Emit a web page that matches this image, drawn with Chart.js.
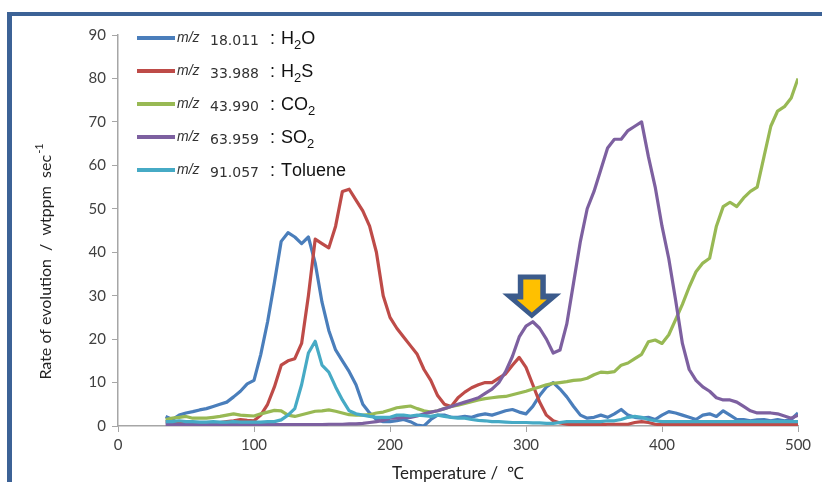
<!DOCTYPE html>
<html>
<head>
<meta charset="utf-8">
<script src="https://cdn.jsdelivr.net/npm/chart.js@4.4.1/dist/chart.umd.min.js"></script>
<style>
  html, body { margin: 0; padding: 0; background: #fff; }
  #wrap { width: 822px; height: 482px; }
</style>
</head>
<body>
<div id="wrap"><canvas id="evolutionChart" width="822" height="482"></canvas></div>
<script>
// Temperature (degC) sample points
const temperatures = [
  35, 40, 45, 50, 55, 60, 65, 70, 75, 80,
  85, 90, 95, 100, 105, 110, 115, 120, 125, 130,
  135, 140, 145, 150, 155, 160, 165, 170, 175, 180,
  185, 190, 195, 200, 205, 210, 215, 220, 225, 230,
  235, 240, 245, 250, 255, 260, 265, 270, 275, 280,
  285, 290, 295, 300, 305, 310, 315, 320, 325, 330,
  335, 340, 345, 350, 355, 360, 365, 370, 375, 380,
  385, 390, 395, 400, 405, 410, 415, 420, 425, 430,
  435, 440, 445, 450, 455, 460, 465, 470, 475, 480,
  485, 490, 495, 500
];

// Rate of evolution (wtppm/sec) per species
const h2oValues = [
  2.2, 1.5, 2.5, 3, 3.3, 3.7, 4, 4.5, 5, 5.5,
  6.7, 8, 9.7, 10.5, 16.5, 24, 33, 42.5, 44.5, 43.5,
  42, 43.5, 37.5, 28.5, 22, 17.5, 15, 12.5, 9.5, 5,
  3, 1.5, 1, 1, 1.2, 1.5, 1, 0.2, 0, 1.5,
  2.5, 2.5, 2, 2, 2.2, 2, 2.5, 2.8, 2.5, 3,
  3.5, 3.8, 3.2, 2.8, 4.5, 7, 9, 10, 8.5, 6.7,
  4.5, 2.5, 1.8, 2, 2.5, 2, 2.8, 3.8, 2.5, 2,
  1.8, 2, 1.5, 2.5, 3.3, 3, 2.5, 2, 1.5, 2.5,
  2.8, 2.2, 3.5, 2.5, 1.5, 1.5, 1.2, 1.4, 1.5, 1.2,
  1.5, 1.2, 1.5, 3
];
const h2sValues = [
  1, 1, 0.8, 0.8, 0.7, 0.8, 0.8, 0.7, 0.8, 1,
  1.2, 1.5, 1.3, 1.2, 2.5, 5, 9, 14, 15, 15.5,
  19, 30, 43, 42, 41, 46, 54, 54.5, 52, 49.5,
  46, 40, 30, 25, 22.5, 20.5, 18.5, 16.5, 13, 10.5,
  7, 5, 4.5, 6.5, 7.8, 8.8, 9.5, 10, 10, 11,
  12, 14, 15.8, 13.5, 9.5, 5.5, 2.5, 1.2, 0.7, 0.4,
  0.3, 0.3, 0.3, 0.3, 0.3, 0.4, 0.4, 0.4, 0.4, 0.8,
  1, 0.8, 0.4, 0.3, 0.3, 0.3, 0.3, 0.3, 0.3, 0.3,
  0.3, 0.3, 0.3, 0.3, 0.3, 0.3, 0.3, 0.3, 0.3, 0.3,
  0.3, 0.3, 0.3, 0.3
];
const co2Values = [
  1.5, 1.8, 2, 2.2, 1.8, 1.8, 1.8, 2, 2.2, 2.5,
  2.8, 2.5, 2.4, 2.3, 2.8, 3.2, 3.6, 3.5, 2.5, 2.2,
  2.6, 3, 3.4, 3.5, 3.7, 3.4, 3, 2.6, 2.5, 2.5,
  2.6, 3, 3.2, 3.7, 4.2, 4.4, 4.6, 4, 3.5, 3.2,
  3.5, 4, 4.5, 4.8, 5.2, 5.6, 6, 6.3, 6.5, 6.7,
  6.8, 7.2, 7.6, 8, 8.5, 9, 9.5, 9.8, 10, 10.2,
  10.5, 10.6, 11, 11.8, 12.4, 12.3, 12.5, 14, 14.5, 15.5,
  16.5, 19.4, 19.8, 19, 21, 24.5, 28, 32, 35.5, 37.5,
  38.6, 46, 50.5, 51.5, 50.5, 52.5, 54, 55, 62, 69,
  72.5, 73.5, 75.5, 80
];
const so2Values = [
  0.3, 0.3, 0.3, 0.3, 0.3, 0.3, 0.3, 0.3, 0.3, 0.3,
  0.3, 0.3, 0.3, 0.3, 0.3, 0.3, 0.3, 0.3, 0.3, 0.3,
  0.3, 0.3, 0.3, 0.3, 0.4, 0.4, 0.4, 0.5, 0.5, 0.6,
  0.8, 1, 1.3, 1.8, 1.8, 2, 2, 2.3, 2.8, 3.2,
  3.5, 4, 4.5, 5, 5.5, 6, 6.5, 7.5, 8.5, 10,
  12.5, 16, 20.5, 23, 24, 22.5, 20, 16.8, 17.5, 23.5,
  33, 42.5, 50, 54, 59, 64, 66, 66, 68, 69,
  70, 62, 55, 46, 38.5, 29, 19, 13, 10.5, 9,
  8, 6.5, 6, 6, 5.5, 4.5, 3.5, 3, 3, 3,
  2.8, 2.3, 1.8, 2.5
];
const tolueneValues = [
  1, 1, 1.2, 1, 1, 0.9, 0.9, 1, 0.9, 0.9,
  1, 0.9, 0.9, 0.9, 0.9, 1, 1, 1.4, 2.5, 4,
  9.5, 16.8, 19.5, 14, 12.4, 9, 6, 3.5, 2.8, 2.5,
  2.2, 2, 2, 2, 2.5, 2.5, 2.3, 2.5, 2.4, 2.2,
  2.5, 2.2, 2, 1.8, 1.8, 1.5, 1.3, 1.2, 1, 1,
  0.9, 0.8, 0.8, 0.8, 0.7, 0.7, 0.6, 0.6, 0.8, 1,
  1, 1, 1, 1, 1, 1.2, 1.2, 1.5, 2, 2.2,
  2, 1.5, 1.2, 1, 1, 1, 1, 1, 1, 1,
  1, 1, 1, 1, 1, 1, 1, 1, 1, 1,
  1, 1, 1, 1
];

const massNumbers = ["18.011", "33.988", "43.990", "63.959", "91.057"];
const speciesNames = ["H_2O", "H_2S", "CO_2", "SO_2", "Toluene"];
const seriesColors = ["#4a7ebb", "#be4b48", "#98b954", "#7d60a0", "#46aac5"];
const xTicks = [0, 100, 200, 300, 400, 500];
const yTicks = [0, 10, 20, 30, 40, 50, 60, 70, 80, 90];

// marked shoulder of the SO2 curve
const arrowTarget = { x: 305, y: 25 };

const seriesValues = [h2oValues, h2sValues, co2Values, so2Values, tolueneValues];

const datasets = seriesValues.map((values, i) => ({
  label: massNumbers[i],
  data: temperatures.map((t, j) => ({ x: t, y: values[j] })),
  borderColor: seriesColors[i],
  borderWidth: 3.2,
  pointRadius: 0,
  tension: 0,
  borderJoinStyle: "round",
  fill: false,
  order: seriesValues.length - i,
}));

const FRAME_COLOR = "#3c6296";

// draws text with "_2" as subscript, returns width used
function drawFormula(ctx, text, x, y, size) {
  let cx = x;
  for (let k = 0; k < text.length; k++) {
    const ch = text[k];
    if (ch === "_" && k + 1 < text.length) {
      ctx.font = `${Math.round(size * 0.7)}px "Liberation Sans", Arial, sans-serif`;
      ctx.fillText(text[k + 1], cx, y + 5);
      cx += ctx.measureText(text[k + 1]).width;
      k++;
    } else {
      ctx.font = `${size}px "Liberation Sans", Arial, sans-serif`;
      ctx.fillText(ch, cx, y);
      cx += ctx.measureText(ch).width;
    }
  }
  return cx - x;
}

// block arrow pointing down, tip at (tx, ty)
function arrowPath(ctx, tx, ty, shaftHalf, headHalf, headTop, top, tipInset) {
  ctx.beginPath();
  ctx.moveTo(tx, ty - tipInset);
  ctx.lineTo(tx - headHalf, ty - headTop);
  ctx.lineTo(tx - shaftHalf, ty - headTop);
  ctx.lineTo(tx - shaftHalf, ty - top);
  ctx.lineTo(tx + shaftHalf, ty - top);
  ctx.lineTo(tx + shaftHalf, ty - headTop);
  ctx.lineTo(tx + headHalf, ty - headTop);
  ctx.closePath();
}

const decorPlugin = {
  id: "decor",
  beforeDraw(chart) {
    const ctx = chart.ctx;
    ctx.save();
    ctx.fillStyle = "#ffffff";
    ctx.fillRect(0, 0, chart.width, chart.height);
    // slide frame
    ctx.fillStyle = FRAME_COLOR;
    ctx.fillRect(7, 12, chart.width - 7, 4);
    ctx.fillRect(7, 12, 5, chart.height - 12);
    ctx.restore();
  },
  afterDraw(chart) {
    const ctx = chart.ctx;
    const xs = chart.scales.x;
    const ys = chart.scales.y;
    ctx.save();

    // legend
    massNumbers.forEach((mass, i) => {
      const ly = 38 + i * 33;
      ctx.strokeStyle = seriesColors[i];
      ctx.lineWidth = 4;
      ctx.beginPath();
      ctx.moveTo(137, ly);
      ctx.lineTo(175, ly);
      ctx.stroke();

      ctx.fillStyle = "#333333";
      ctx.textAlign = "left";
      ctx.textBaseline = "alphabetic";
      ctx.font = 'italic 14px "Liberation Sans", Arial, sans-serif';
      ctx.fillText("m/z", 177, ly + 4);
      ctx.font = '14px "DejaVu Sans", Verdana, sans-serif';
      ctx.fillText(mass, 210, ly + 7);
      ctx.fillStyle = "#111111";
      ctx.font = '18px "Liberation Sans", Arial, sans-serif';
      ctx.fillText(":", 270, ly + 6);
      drawFormula(ctx, speciesNames[i], 281, ly + 6, 18);
    });

    // y axis title with superscript
    ctx.save();
    ctx.translate(46, 262);
    ctx.rotate(-Math.PI / 2);
    ctx.fillStyle = "#222222";
    ctx.textBaseline = "middle";
    ctx.font = '16px Lato, "Open Sans", sans-serif';
    const mainText = "Rate of evolution  /  wtppm  sec";
    const supText = "-1";
    const mainW = ctx.measureText(mainText).width;
    ctx.font = '11px Lato, "Open Sans", sans-serif';
    const supW = ctx.measureText(supText).width;
    const startX = -(mainW + supW) / 2;
    ctx.font = '16px Lato, "Open Sans", sans-serif';
    ctx.textAlign = "left";
    ctx.fillText(mainText, startX, 0);
    ctx.font = '11px Lato, "Open Sans", sans-serif';
    ctx.fillText(supText, startX + mainW + 1, -7);
    ctx.restore();

    // down arrow pointing at the SO2 shoulder
    const tipX = xs.getPixelForValue(arrowTarget.x) - 1;
    const tipY = ys.getPixelForValue(arrowTarget.y) + 1;
    arrowPath(ctx, tipX, tipY, 14, 29.5, 25, 44, 0);
    ctx.fillStyle = "#3b5b8c";
    ctx.fill();
    arrowPath(ctx, tipX, tipY, 8.5, 15, 19, 39, 6);
    ctx.fillStyle = "#ffc000";
    ctx.fill();

    ctx.restore();
  },
};

const ctx = document.getElementById("evolutionChart").getContext("2d");
const evolutionChart = new Chart(ctx, {
  type: "line",
  data: { datasets },
  options: {
    responsive: false,
    animation: false,
    devicePixelRatio: 1,
    layout: { padding: { top: 35, right: 24, left: 0, bottom: 0 } },
    plugins: {
      legend: { display: false },
      tooltip: { enabled: false },
    },
    scales: {
      x: {
        type: "linear",
        min: xTicks[0],
        max: xTicks[xTicks.length - 1],
        afterFit: (scale) => { scale.height = 56; },
        afterBuildTicks: (scale) => { scale.ticks = xTicks.map((v) => ({ value: v })); },
        ticks: {
          color: "#404040",
          font: { family: 'Lato, "Open Sans", sans-serif', size: 15 },
          padding: 4,
          maxRotation: 0,
        },
        grid: { drawOnChartArea: false, color: "#a6a6a6", tickLength: 6 },
        border: { color: "#a6a6a6", width: 1.5 },
        title: {
          display: true,
          text: "Temperature /  ℃",
          color: "#222222",
          font: { family: 'Lato, "Open Sans", sans-serif', size: 17 },
          padding: { top: 0, bottom: -2 },
        },
      },
      y: {
        type: "linear",
        min: yTicks[0],
        max: yTicks[yTicks.length - 1],
        afterFit: (scale) => { scale.width = 118; },
        afterBuildTicks: (scale) => { scale.ticks = yTicks.map((v) => ({ value: v })); },
        ticks: {
          color: "#404040",
          font: { family: 'Lato, "Open Sans", sans-serif', size: 15 },
          padding: 6,
        },
        grid: { drawOnChartArea: false, color: "#a6a6a6", tickLength: 6 },
        border: { color: "#a6a6a6", width: 1.5 },
      },
    },
  },
  plugins: [decorPlugin],
});
</script>
</body>
</html>
